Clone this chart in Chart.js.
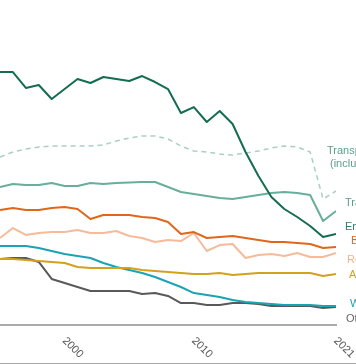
<!DOCTYPE html>
<html><head><meta charset="utf-8">
<script src="https://cdn.jsdelivr.net/npm/chart.js@4.4.1/dist/chart.umd.min.js"></script>
<style>
html,body{margin:0;padding:0;background:#fff;overflow:hidden}
#wrap{position:relative;width:356px;height:363px;border-bottom:1px solid #a8a8a8}
</style></head><body>
<div id="wrap"><canvas id="c"></canvas></div>
<script>
// Years visible in the cropped view
const years = [1995,1996,1997,1998,1999,2000,2001,2002,2003,2004,2005,2006,2007,2008,2009,2010,2011,2012,2013,2014,2015,2016,2017,2018,2019,2020,2021];
// Emissions, MtCO2e
const energySupply = [233.5,233.5,218.8,221.5,208.6,217.8,227.1,223.4,228.9,227.1,225.2,229.8,224.3,217.8,195.7,201.2,187.4,197.5,185.5,159.7,137.5,118.2,107.1,99.7,91.4,81.2,84.0];
const transportInclIntl = [155.1,159.7,162.5,164.3,165.2,165.2,165.2,165.2,166.2,169.8,172.6,174.5,174.5,171.7,165.2,160.6,159.7,157.8,156.9,158.8,160.6,163.4,165.2,164.3,159.7,116.3,123.7];
const transport = [127.4,130.2,129.2,129.2,131.1,128.3,128.3,131.1,130.2,131.1,131.5,132.0,132.0,127.4,122.8,120.9,119.1,117.2,116.3,118.2,120.0,121.8,122.8,121.8,120.0,96.0,105.2];
const business = [106.2,108.0,106.2,106.2,108.0,108.9,107.1,97.8,101.5,101.5,101.5,99.7,98.8,95.1,84.0,85.8,80.3,81.2,82.2,80.3,78.5,76.6,76.6,75.7,74.8,71.1,72.0];
const residential = [80.3,89.5,83.1,84.9,85.8,85.8,87.7,84.9,84.9,86.8,82.2,80.3,76.6,78.5,77.5,84.9,68.3,73.8,74.8,61.8,64.6,65.5,63.7,66.5,62.8,62.8,66.5];
const agriculture = [60.9,60.9,60.0,59.1,58.2,57.2,53.5,52.6,52.6,52.6,52.6,50.8,49.8,48.9,48.0,47.1,47.1,48.0,46.2,47.1,48.0,48.0,48.0,48.0,48.0,45.2,47.1];
const waste = [72.9,72.9,72.9,71.1,68.3,65.5,63.7,61.8,57.2,53.5,50.8,48.0,44.3,39.7,35.1,29.5,27.7,25.8,23.1,21.2,20.3,19.4,18.5,18.5,18.5,17.5,17.5];
const other = [60.9,61.8,61.8,58.2,42.5,38.8,35.1,31.4,31.4,31.4,31.4,28.6,29.5,26.8,20.3,20.3,18.5,18.5,20.3,20.3,19.4,17.5,17.5,17.5,17.5,15.7,16.6];
// Tick labels
const tickYears = [2000, 2010, 2021];
// Series names
const nameEnergy = 'Energy supply';
const nameTransportIntl = ['Transport', '(including international aviation and shipping)'];
const nameTransport = 'Transport';
const nameBusiness = 'Business';
const nameResidential = 'Residential';
const nameAgriculture = 'Agriculture';
const nameWaste = 'Waste management';
const nameOther = 'Other';

const C = {
  energy:'#146c53', transport:'#68ae9b', intl:'#a9d1c3', business:'#e0661c',
  residential:'#f5bb9b', agriculture:'#d4a11e', waste:'#19a4b6', other:'#58595b'
};

const pts = arr => arr.map((v,i) => ({x: years[i], y: v}));
const ds = (label, data, color, extra) => Object.assign({
  label, data: pts(data), borderColor: color, backgroundColor: color,
  borderWidth: 2, pointRadius: 0, tension: 0, borderJoinStyle: 'round', fill: false
}, extra || {});

// End-label placement (style, not data)
const endLabels = [
  {lines: nameTransportIntl, color:'#5f9e8e', at:160.6, dx:[-9,-6]},
  {lines: [nameTransport], color:'#5a9f8a', at:112.6, dx:[9]},
  {lines: [nameEnergy], color:'#2e7e6c', at:90.5, dx:[9]},
  {lines: [nameBusiness], color:C.business, at:77.5, dx:[15]},
  {lines: [nameResidential], color:'#f0b38f', at:60.0, dx:[11]},
  {lines: [nameAgriculture], color:C.agriculture, at:46.2, dx:[13]},
  {lines: [nameWaste], color:C.waste, at:19.4, dx:[14]},
  {lines: [nameOther], color:'#666666', at:5.5, dx:[10]}
];

const labelPlugin = {
  id: 'customLabels',
  afterDraw(chart) {
    const {ctx, chartArea, scales: {x, y}} = chart;
    ctx.save();
    ctx.font = '11px "Liberation Sans", Arial, sans-serif';
    ctx.textBaseline = 'middle';
    ctx.textAlign = 'left';
    endLabels.forEach(l => {
      ctx.fillStyle = l.color;
      const py = y.getPixelForValue(l.at);
      l.lines.forEach((t, i) => ctx.fillText(t, chartArea.right + l.dx[i], py + i * 13));
    });
    ctx.fillStyle = '#555555';
    tickYears.forEach(yr => {
      const px = x.getPixelForValue(yr);
      ctx.save();
      ctx.translate(px - 0.5, chartArea.bottom + 14);
      ctx.rotate(Math.PI / 4);
      ctx.fillText(String(yr), 0, 0);
      ctx.restore();
    });
    ctx.restore();
  }
};

new Chart(document.getElementById('c'), {
  type: 'line',
  data: {
    datasets: [
      ds(nameEnergy, energySupply, C.energy),
      ds(nameTransport, transport, C.transport),
      ds(nameBusiness, business, C.business),
      ds(nameResidential, residential, C.residential),
      ds(nameAgriculture, agriculture, C.agriculture),
      ds(nameWaste, waste, C.waste),
      ds(nameOther, other, C.other),
      ds(nameTransportIntl.join(' '), transportInclIntl, C.intl, {borderDash:[5,4], borderWidth:1.5})
    ]
  },
  options: {
    responsive: true, maintainAspectRatio: false, animation: false,
    layout: {padding: {left: 0, right: 20, top: 0, bottom: 38}},
    plugins: {legend: {display: false}, tooltip: {enabled: false}},
    scales: {
      x: {
        type: 'linear', min: 1995, max: 2021,
        ticks: {display: false},
        grid: {display: true, color: 'rgba(0,0,0,0)', drawTicks: false},
        border: {display: true, color: '#aaaaaa', width: 2}
      },
      y: {display: false, min: 0, max: 300}
    }
  },
  plugins: [labelPlugin]
});
</script>
</body></html>
